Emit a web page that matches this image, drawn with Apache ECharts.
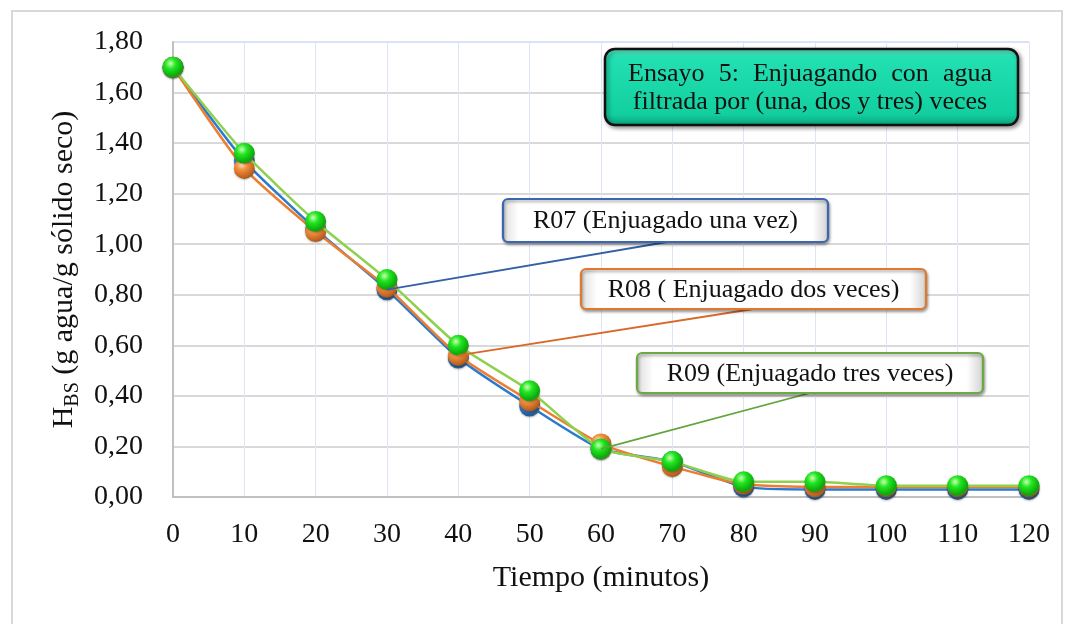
<!DOCTYPE html>
<html>
<head>
<meta charset="utf-8">
<title>Ensayo 5</title>
<script src="https://cdn.jsdelivr.net/npm/echarts@6/dist/echarts.min.js"></script>
<style>
  html, body { margin: 0; padding: 0; background: #fff; }
  #chart { width: 1069px; height: 624px; }
</style>
</head>
<body>
<div id="chart"></div>
<script>
// Tiempo de secado (minutos)
const tiempo = [0, 10, 20, 30, 40, 50, 60, 70, 80, 90, 100, 110, 120];
// Humedad en base seca, g agua / g sólido seco
const r07 = [1.70, 1.33, 1.06, 0.82, 0.55, 0.36, 0.19, 0.14, 0.04, 0.03, 0.03, 0.03, 0.03];
const r08 = [1.70, 1.30, 1.05, 0.83, 0.56, 0.38, 0.21, 0.12, 0.05, 0.04, 0.04, 0.04, 0.04];
const r09 = [1.70, 1.36, 1.09, 0.86, 0.60, 0.42, 0.19, 0.14, 0.06, 0.06, 0.045, 0.045, 0.045];

const seriesNames = ['R07 (Enjuagado una vez)', 'R08 ( Enjuagado dos veces)', 'R09 (Enjuagado tres veces)'];
const tituloLineas = ['Ensayo 5: Enjuagando con agua', 'filtrada por (una, dos y tres) veces'];
const yTicks = [0, 0.2, 0.4, 0.6, 0.8, 1.0, 1.2, 1.4, 1.6, 1.8];

const FONT = '"Liberation Serif", "Times New Roman", serif';

function pairs(ys) { return tiempo.map((t, i) => [t, ys[i]]); }

function sphere(light, mid, dark, rim) {
  return new echarts.graphic.RadialGradient(0.38, 0.32, 0.72, [
    { offset: 0, color: light },
    { offset: 0.35, color: mid },
    { offset: 0.85, color: dark },
    { offset: 1, color: rim }
  ]);
}

const lineColors = ['#2a7bd0', '#ed7d31', '#8fd14f'];
const markerFills = [
  sphere('#cfe6ff', '#3a8ee0', '#1d5a99', '#4a5f7a'),
  sphere('#ffe0c0', '#f0913f', '#c0601e', '#8a5a2a'),
  sphere('#c8ffb0', '#22e622', '#0aa80a', '#6d7a2c')
];
const dataSets = [r07, r08, r09];

const chart = echarts.init(document.getElementById('chart'), null, { renderer: 'canvas' });

const option = {
  backgroundColor: '#ffffff',
  animation: false,
  textStyle: { fontFamily: FONT },
  grid: { left: 173, right: 40, top: 42, bottom: 127, containLabel: false, show: false },
  xAxis: {
    type: 'value', min: 0, max: 120, interval: 10,
    name: 'Tiempo (minutos)', nameLocation: 'middle', nameGap: 66,
    nameTextStyle: { fontFamily: FONT, fontSize: 30, color: '#111' },
    axisLine: { show: true, lineStyle: { color: '#c0c0c0', width: 2 } },
    axisTick: { show: false },
    axisLabel: { fontFamily: FONT, fontSize: 28, color: '#111', margin: 24 },
    splitLine: { show: true, lineStyle: { color: '#dde7f3', width: 1 } }
  },
  yAxis: {
    type: 'value', min: 0, max: 1.8, interval: 0.2,
    name: '{h|H}{s|BS}{h| (g agua/g sólido seco)}',
    nameLocation: 'middle', nameGap: 88, nameRotate: 90,
    nameTextStyle: {
      color: '#111',
      rich: {
        h: { fontFamily: FONT, fontSize: 30, color: '#111', lineHeight: 34 },
        s: { fontFamily: FONT, fontSize: 20, color: '#111', lineHeight: 34, padding: [18, 0, 0, 0] }
      }
    },
    axisLine: { show: true, lineStyle: { color: '#c0c0c0', width: 2 } },
    axisTick: { show: false },
    axisLabel: {
      fontFamily: FONT, fontSize: 28, color: '#111', margin: 30,
      formatter: v => v.toFixed(2).replace('.', ',')
    },
    splitLine: {
      show: true,
      lineStyle: {
        width: 2,
        color: yTicks.map((t, i) => i === yTicks.length - 1 ? '#dae3f3' : '#d9d9d9')
      }
    }
  },
  series: dataSets.map((d, i) => ({
    name: seriesNames[i],
    type: 'line',
    data: pairs(d),
    smooth: 0.18,
    symbol: 'circle',
    symbolSize: 21,
    lineStyle: { color: lineColors[i], width: 2.5 },
    itemStyle: {
      color: markerFills[i],
      shadowColor: 'rgba(0,0,0,0.25)', shadowBlur: 2, shadowOffsetY: 1
    },
    z: 2 + i
  }))
};

chart.setOption(option);

// Annotation boxes and leader lines
const ctx = document.createElement('canvas').getContext('2d');
function textWidth(str, size) {
  ctx.font = size + 'px ' + FONT;
  return ctx.measureText(str).width;
}

const bevel = new echarts.graphic.LinearGradient(0, 0, 1, 0, [
  { offset: 0, color: '#dcdcdc' },
  { offset: 0.05, color: '#ffffff' },
  { offset: 0.95, color: '#ffffff' },
  { offset: 1, color: '#d0d0d0' }
]);

const labelBoxes = [
  { x: 503, y: 199, w: 325, h: 43, stroke: '#3d66b0', text: seriesNames[0], anchor: [667, 242], idx: 3, ds: r07 },
  { x: 581, y: 269, w: 345, h: 40, stroke: '#e2782e', text: seriesNames[1], anchor: [753, 309], idx: 4, ds: r08 },
  { x: 637, y: 353, w: 346, h: 40, stroke: '#6aaa40', text: seriesNames[2], anchor: [810, 393], idx: 6, ds: r09 }
];
const leaderColors = ['#3560a8', '#d8692a', '#62a33a'];

const graphics = [];
// outer chart frame
graphics.push({
  type: 'rect', z: 0, silent: true,
  shape: { x: 12, y: 11, width: 1050, height: 640 },
  style: { fill: 'none', stroke: '#d9d9d9', lineWidth: 2 }
});

labelBoxes.forEach((b, i) => {
  const p = chart.convertToPixel({ gridIndex: 0 }, [tiempo[b.idx], b.ds[b.idx]]);
  graphics.push({
    type: 'line', z: 50, silent: true,
    shape: { x1: b.anchor[0], y1: b.anchor[1], x2: p[0], y2: p[1] },
    style: { stroke: leaderColors[i], lineWidth: 1.8 }
  });
  graphics.push({
    type: 'rect', z: 60, silent: true,
    shape: { x: b.x, y: b.y, width: b.w, height: b.h, r: 5 },
    style: {
      fill: bevel, stroke: b.stroke, lineWidth: 2.2,
      shadowColor: 'rgba(0,0,0,0.35)', shadowBlur: 3, shadowOffsetX: 1, shadowOffsetY: 2
    }
  });
  graphics.push({
    type: 'text', z: 61, silent: true,
    style: {
      x: b.x + b.w / 2, y: b.y + b.h / 2 + 1,
      text: b.text, fontFamily: FONT, fontSize: 26, fill: '#111',
      align: 'center', verticalAlign: 'middle'
    }
  });
});

// title box
const tb = { x: 605, y: 49, w: 413, h: 76 };
graphics.push({
  type: 'rect', z: 60, silent: true,
  shape: { x: tb.x, y: tb.y, width: tb.w, height: tb.h, r: 10 },
  style: {
    fill: new echarts.graphic.LinearGradient(0, 0, 0, 1, [
      { offset: 0, color: '#6ff3d2' },
      { offset: 0.12, color: '#22e0b2' },
      { offset: 0.85, color: '#12cf9f' },
      { offset: 1, color: '#0a9f7a' }
    ]),
    stroke: '#111', lineWidth: 2.5,
    shadowColor: 'rgba(0,0,0,0.4)', shadowBlur: 4, shadowOffsetX: 2, shadowOffsetY: 2
  }
});
const tSize = 26;
const tLeft = 628, tRight = 992;
// first line justified across the box
const words = tituloLineas[0].split(' ');
const wW = words.map(w => textWidth(w, tSize));
const gap = (tRight - tLeft - wW.reduce((a, b) => a + b, 0)) / (words.length - 1);
let cx = tLeft;
words.forEach((w, i) => {
  graphics.push({
    type: 'text', z: 61, silent: true,
    style: { x: cx, y: 74, text: w, fontFamily: FONT, fontSize: tSize, fill: '#111', align: 'left', verticalAlign: 'middle' }
  });
  cx += wW[i] + gap;
});
graphics.push({
  type: 'text', z: 61, silent: true,
  style: { x: (tLeft + tRight) / 2, y: 102, text: tituloLineas[1], fontFamily: FONT, fontSize: tSize, fill: '#111', align: 'center', verticalAlign: 'middle' }
});

chart.setOption({ graphic: graphics });
</script>
</body>
</html>
